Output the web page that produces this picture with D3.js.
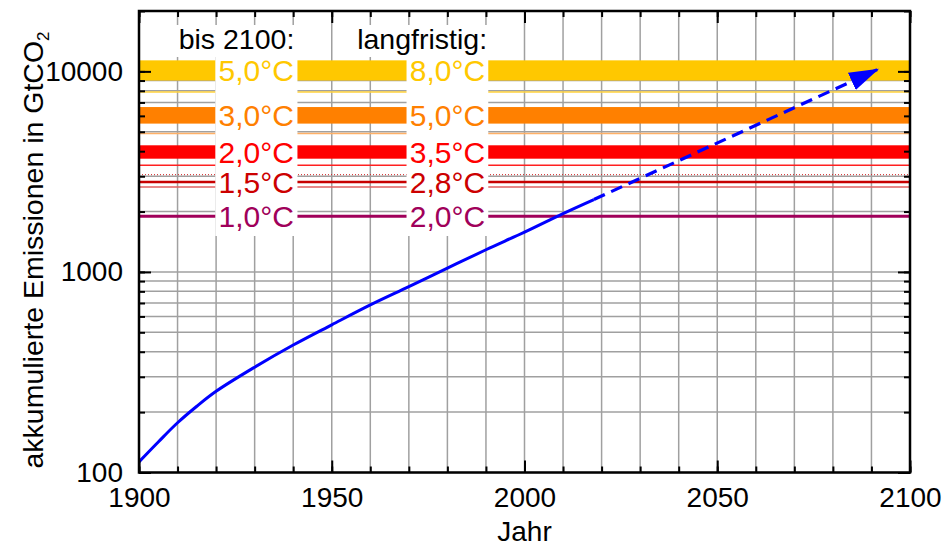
<!DOCTYPE html>
<html>
<head>
<meta charset="utf-8">
<script src="https://cdn.jsdelivr.net/npm/d3@7"></script>
<style>
  body { margin: 0; background: #fff; }
  text { font-family: Arial, "Liberation Sans", sans-serif; }
</style>
</head>
<body>
<div id="chart"></div>
<script>
// ---- data
var histYears = [1900, 1905, 1910, 1915, 1920, 1930, 1940, 1950, 1960, 1970, 1980, 1990, 2000, 2010, 2018];
var histEmis  = [113, 142, 177, 214, 254, 335, 432, 545, 685, 845, 1045, 1290, 1580, 1955, 2296];
var projYears = [2018, 2091.5];
var projEmis  = [2296, 10200];

// thick budget bands (low / high)
var bandLow  = [9000, 5490, 3670];
var bandHigh = [11350, 6640, 4280];
// thin budget lines
var lineValues = [7890, 4895, 3400, 3055, 2805, 2653, 1895];

var labelBis  = ["5,0°C", "3,0°C", "2,0°C", "1,5°C", "1,0°C"];
var labelLang = ["8,0°C", "5,0°C", "3,5°C", "2,8°C", "2,0°C"];
var labelAt   = [10100, 6040, 3960, 2805, 1895];

var xMajor = [1900, 1950, 2000, 2050, 2100];
var yMajor = [100, 1000, 10000];

/* styles */
var bandColors  = ["#ffc800", "#ff8000", "#ff0000"];
var lineColors  = ["#ffd23c", "#ffb066", "#ff2020", "#d02020", "#c80000", "#e06060", "#a0005a"];
var lineWidths  = [1.5, 1.5, 1.5, 1, 2.5, 1.5, 3];
var lineDash    = [null, null, null, "1,2", null, null, null];
var labelColors = ["#ffc800", "#ff8000", "#ff0000", "#cc0000", "#a0005a"];
var fontSize = 28;
var labelSize = 30;

// ---- D3 plotting init
var margin = {top: 11, right: 33, bottom: 75, left: 139},
    width = 943 - margin.left - margin.right,
    height = 472.5 - margin.top;

var svg = d3.select("#chart")
  .append("svg")
    .attr("width", 943)
    .attr("height", 547)
  .append("g")
    .attr("transform", "translate(" + margin.left + "," + margin.top + ")");

var xScale = d3.scaleLinear().domain([1900, 2100]).range([0, width]);
var yScale = d3.scaleLog().domain([100, 20000]).range([height, 0]);

var xMinor = d3.range(1900, 2101, 10);
var yMinor = [];
[100, 1000, 10000].forEach(function (d) {
  for (var k = 1; k <= 9; k++) { if (d * k <= 20000) yMinor.push(d * k); }
});

// grid
svg.append("g").selectAll("line").data(xMinor).join("line")
  .attr("x1", d => xScale(d)).attr("x2", d => xScale(d))
  .attr("y1", 0).attr("y2", height)
  .attr("stroke", "#a0a0a0").attr("stroke-width", 1.5);
svg.append("g").selectAll("line").data(yMinor).join("line")
  .attr("x1", 0).attr("x2", width)
  .attr("y1", d => yScale(d)).attr("y2", d => yScale(d))
  .attr("stroke", "#a0a0a0").attr("stroke-width", 1.5);

// bands
svg.append("g").selectAll("rect").data(bandLow).join("rect")
  .attr("x", 0).attr("width", width)
  .attr("y", (d, i) => yScale(bandHigh[i]))
  .attr("height", (d, i) => yScale(d) - yScale(bandHigh[i]))
  .attr("fill", (d, i) => bandColors[i]);

svg.append("g").selectAll("line").data(lineValues).join("line")
  .attr("x1", 0).attr("x2", width)
  .attr("y1", d => yScale(d)).attr("y2", d => yScale(d))
  .attr("stroke", (d, i) => lineColors[i])
  .attr("stroke-width", (d, i) => lineWidths[i])
  .attr("stroke-dasharray", (d, i) => lineDash[i]);

// white boxes behind labels
var boxes = [
  [xScale(1919.8), 14, xScale(1941.1) - xScale(1919.8), 211],
  [xScale(1969.4), 14, xScale(1990.6) - xScale(1969.4), 211],
  [xScale(1909.6), 14, xScale(1941.1) - xScale(1909.6), 32],
  [xScale(1954.6), 14, xScale(1990.6) - xScale(1954.6), 32]
];
svg.append("g").selectAll("rect").data(boxes).join("rect")
  .attr("x", d => d[0]).attr("y", d => d[1])
  .attr("width", d => d[2]).attr("height", d => d[3])
  .attr("fill", "#fff");

// headers
svg.append("text").attr("x", xScale(1940.3)).attr("y", 38)
  .attr("text-anchor", "end").attr("font-size", 28.5).text("bis 2100:");
svg.append("text").attr("x", xScale(1990.3)).attr("y", 38)
  .attr("text-anchor", "end").attr("font-size", 28.5).text("langfristig:");

// labels
[labelBis, labelLang].forEach(function (labels, c) {
  var cx = c === 0 ? xScale(1930.4) : xScale(1980);
  svg.append("g").selectAll("text").data(labels).join("text")
    .attr("x", cx)
    .attr("y", (d, i) => yScale(labelAt[i]))
    .attr("dy", "0.36em")
    .attr("text-anchor", "middle")
    .attr("font-size", labelSize)
    .attr("fill", (d, i) => labelColors[i])
    .text(d => d);
});

// emissions curve
var hist = histYears.map((d, i) => ({x: d, y: histEmis[i]}));
var proj = projYears.map((d, i) => ({x: d, y: projEmis[i]}));

var line = d3.line()
  .x(d => xScale(d.x))
  .y(d => yScale(d.y))
  .curve(d3.curveCatmullRom.alpha(0.5));

svg.append("defs").append("marker")
  .attr("id", "arrow")
  .attr("viewBox", "0 0 30 19")
  .attr("refX", 28).attr("refY", 9.5)
  .attr("markerWidth", 30).attr("markerHeight", 19)
  .attr("markerUnits", "userSpaceOnUse")
  .attr("orient", "auto")
  .append("path").attr("d", "M0,0 L30,9.5 L0,19 Z").attr("fill", "#0000ff");

svg.append("path").datum(hist)
  .attr("d", line).attr("fill", "none")
  .attr("stroke", "#0000ff").attr("stroke-width", 3);
svg.append("path").datum(proj)
  .attr("d", d3.line().x(d => xScale(d.x)).y(d => yScale(d.y)))
  .attr("fill", "none")
  .attr("stroke", "#0000ff").attr("stroke-width", 3.2)
  .attr("stroke-dasharray", "12,7")
  .attr("marker-end", "url(#arrow)");

// axes: ticks point inward on all four sides
function styleAxis(g) {
  g.select(".domain").remove();
  g.selectAll(".tick line").attr("stroke", "#000").attr("stroke-width", 2);
  g.selectAll(".tick text").attr("font-size", fontSize).attr("fill", "#000")
    .style("font-family", "Arial, 'Liberation Sans', sans-serif");
}
svg.append("g").attr("transform", "translate(0," + height + ")")
  .call(d3.axisBottom(xScale).tickValues(xMinor).tickSize(-6).tickFormat(""))
  .call(styleAxis);
svg.append("g").attr("transform", "translate(0," + height + ")")
  .call(d3.axisBottom(xScale).tickValues(xMajor).tickSize(-12).tickPadding(15).tickFormat(d3.format("d")))
  .call(styleAxis);
svg.append("g")
  .call(d3.axisTop(xScale).tickValues(xMinor).tickSize(-6).tickFormat(""))
  .call(styleAxis);
svg.append("g")
  .call(d3.axisTop(xScale).tickValues(xMajor).tickSize(-12).tickFormat(""))
  .call(styleAxis);

svg.append("g")
  .call(d3.axisLeft(yScale).tickValues(yMinor).tickSize(-6).tickFormat(""))
  .call(styleAxis);
svg.append("g")
  .call(d3.axisLeft(yScale).tickValues(yMajor).tickSize(-12).tickPadding(16).tickFormat(d3.format("d")))
  .call(styleAxis);
svg.append("g").attr("transform", "translate(" + width + ",0)")
  .call(d3.axisRight(yScale).tickValues(yMinor).tickSize(-6).tickFormat(""))
  .call(styleAxis);
svg.append("g").attr("transform", "translate(" + width + ",0)")
  .call(d3.axisRight(yScale).tickValues(yMajor).tickSize(-12).tickFormat(""))
  .call(styleAxis);

// frame
svg.append("rect").attr("width", width).attr("height", height)
  .attr("fill", "none").attr("stroke", "#000").attr("stroke-width", 2.5);

// axis titles
svg.append("text")
  .attr("x", width / 2).attr("y", 541 - margin.top)
  .attr("text-anchor", "middle").attr("font-size", fontSize)
  .text("Jahr");

var yTitle = svg.append("text")
  .attr("transform", "translate(" + (43 - margin.left) + "," + (250 - margin.top) + ") rotate(-90)")
  .attr("text-anchor", "middle").attr("font-size", 28.5);
yTitle.append("tspan").text("akkumulierte Emissionen in GtCO");
yTitle.append("tspan").attr("font-size", 17).attr("dy", 6).text("2");
</script>
</body>
</html>
